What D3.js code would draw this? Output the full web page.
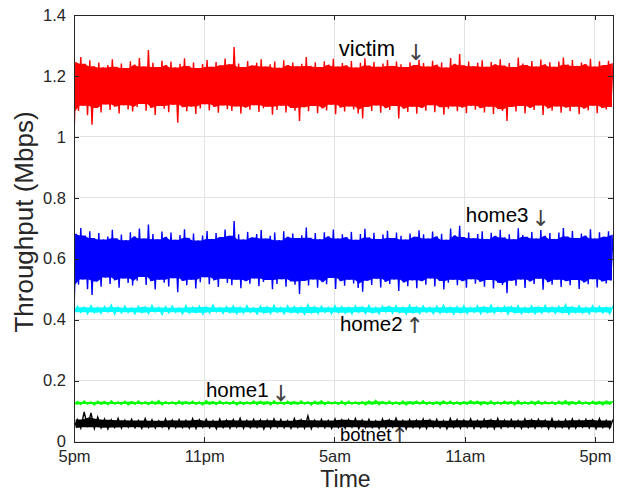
<!DOCTYPE html>
<meta charset="utf-8">
<style>
body { margin: 0; background: #fff; }
svg { font-family: "Liberation Sans", Arial, Helvetica, sans-serif; }
.axis text { font-size: 16.5px; fill: #262626; }
.axis path, .axis line { stroke: #262626; shape-rendering: crispEdges; }
.grid line { stroke: #e3e3e3; shape-rendering: crispEdges; }
.note { font-size: 20.5px; fill: #000; }
.arrow { font-size: 22px; fill: #404040; font-family: "DejaVu Sans", sans-serif; }
</style>
<svg width="621" height="494"></svg>
<script src="https://d3js.org/d3.v7.min.js"></script>
<script>
// time axis, hours after 5pm
var xMax = 24.83;
var xTickHours = [0, 6, 12, 18, 24];
var xTickLabels = ["5pm", "11pm", "5am", "11am", "5pm"];
var yTicks = [0, 0.2, 0.4, 0.6, 0.8, 1, 1.2, 1.4];

// per-bin high / low throughput (Mbps)
var victimHi = [1.245,1.262,1.240,1.251,1.232,1.244,1.228,1.236,1.255,1.230,
  1.241,1.226,1.248,1.237,1.259,1.231,1.285,1.243,1.229,1.250,
  1.236,1.247,1.228,1.240,1.258,1.233,1.244,1.226,1.239,1.252,
  1.230,1.246,1.235,1.257,1.238,1.295,1.241,1.229,1.249,1.234,
  1.243,1.255,1.231,1.238,1.247,1.227,1.251,1.236,1.244,1.232,
  1.240,1.262,1.233,1.245,1.229,1.248,1.237,1.256,1.231,1.242,
  1.235,1.249,1.228,1.243,1.258,1.234,1.246,1.230,1.241,1.252,
  1.233,1.247,1.238,1.229,1.245,1.236,1.253,1.242,1.231,1.250,
  1.237,1.244,1.228,1.259,1.240,1.272,1.235,1.247,1.232,1.243,
  1.251,1.230,1.246,1.238,1.255,1.234,1.242,1.229,1.260,1.241,
  1.236,1.249,1.231,1.254,1.238,1.245,1.230,1.247,1.260,1.237,
  1.252,1.233,1.244,1.239,1.256,1.231,1.248,1.236,1.250,1.242];
var victimLo = [1.000,1.085,1.102,1.071,1.040,1.095,1.080,1.106,1.088,1.099,
  1.077,1.104,1.090,1.083,1.098,1.108,1.086,1.095,1.072,1.101,
  1.092,1.081,1.105,1.046,1.097,1.084,1.100,1.075,1.093,1.107,
  1.087,1.098,1.079,1.103,1.091,1.085,1.100,1.076,1.096,1.089,
  1.104,1.082,1.094,1.099,1.073,1.088,1.102,1.080,1.095,1.086,
  1.052,1.097,1.084,1.101,1.078,1.093,1.087,1.105,1.074,1.096,
  1.083,1.100,1.090,1.077,1.060,1.098,1.085,1.103,1.079,1.094,
  1.088,1.101,1.060,1.092,1.082,1.099,1.076,1.095,1.086,1.104,
  1.081,1.097,1.073,1.092,1.100,1.084,1.096,1.078,1.102,1.089,
  1.094,1.080,1.099,1.075,1.091,1.085,1.052,1.098,1.083,1.101,
  1.077,1.095,1.088,1.103,1.072,1.093,1.086,1.100,1.079,1.096,
  1.084,1.099,1.074,1.092,1.087,1.102,1.078,1.095,1.090,1.098];

var home3Hi = [0.682,0.701,0.676,0.690,0.668,0.684,0.663,0.673,0.695,0.667,
  0.679,0.661,0.687,0.674,0.699,0.666,0.712,0.681,0.664,0.689,
  0.672,0.686,0.662,0.678,0.697,0.669,0.683,0.660,0.676,0.691,
  0.665,0.684,0.671,0.696,0.675,0.724,0.680,0.663,0.688,0.670,
  0.681,0.694,0.666,0.675,0.686,0.661,0.690,0.672,0.683,0.668,
  0.677,0.702,0.669,0.684,0.664,0.687,0.674,0.696,0.666,0.680,
  0.671,0.688,0.662,0.681,0.698,0.670,0.685,0.665,0.679,0.692,
  0.668,0.686,0.675,0.663,0.683,0.672,0.693,0.680,0.666,0.689,
  0.674,0.682,0.662,0.699,0.677,0.708,0.671,0.686,0.667,0.681,
  0.690,0.665,0.685,0.675,0.695,0.670,0.680,0.664,0.700,0.678,
  0.672,0.688,0.666,0.694,0.675,0.684,0.665,0.686,0.701,0.673,
  0.691,0.668,0.683,0.676,0.697,0.666,0.687,0.672,0.690,0.679];
var home3Lo = [0.430,0.515,0.532,0.500,0.481,0.525,0.508,0.538,0.517,0.529,
  0.505,0.535,0.520,0.512,0.528,0.540,0.514,0.526,0.499,0.531,
  0.521,0.509,0.536,0.490,0.527,0.513,0.531,0.502,0.523,0.539,
  0.516,0.529,0.507,0.534,0.520,0.513,0.531,0.503,0.526,0.518,
  0.535,0.510,0.524,0.530,0.500,0.517,0.533,0.508,0.525,0.515,
  0.484,0.527,0.512,0.532,0.505,0.523,0.516,0.537,0.501,0.526,
  0.511,0.531,0.519,0.504,0.492,0.528,0.514,0.534,0.506,0.524,
  0.517,0.532,0.494,0.522,0.510,0.529,0.503,0.526,0.515,0.535,
  0.509,0.527,0.499,0.521,0.531,0.513,0.526,0.505,0.533,0.518,
  0.524,0.508,0.530,0.502,0.520,0.514,0.487,0.528,0.511,0.532,
  0.504,0.525,0.517,0.534,0.498,0.523,0.515,0.531,0.507,0.526,
  0.513,0.530,0.501,0.522,0.516,0.533,0.506,0.525,0.519,0.529];

var home2Hi = [0.444,0.441,0.446,0.440,0.443,0.448,0.441,0.445,0.439,0.444,
  0.442,0.447,0.440,0.443,0.445,0.439,0.446,0.441,0.444,0.442,
  0.448,0.440,0.443,0.445,0.441,0.446,0.439,0.444,0.442,0.447,
  0.440,0.445,0.443,0.441,0.449,0.442,0.444,0.440,0.446,0.443,
  0.441,0.445,0.442,0.447,0.440,0.444,0.443,0.446,0.441,0.448,
  0.442,0.445,0.440,0.444,0.447,0.441,0.443,0.446,0.440,0.445,
  0.442,0.448,0.441,0.444,0.443,0.446,0.440,0.445,0.442,0.447,
  0.441,0.444,0.449,0.442,0.445,0.440,0.446,0.443,0.441,0.445];
var home2Lo = [0.421,0.424,0.419,0.423,0.420,0.425,0.418,0.422,0.424,0.419,
  0.423,0.420,0.425,0.417,0.422,0.424,0.419,0.421,0.423,0.418,
  0.422,0.425,0.420,0.423,0.419,0.421,0.424,0.418,0.422,0.420,
  0.424,0.419,0.423,0.421,0.417,0.422,0.420,0.424,0.419,0.423,
  0.421,0.418,0.424,0.420,0.422,0.419,0.425,0.421,0.423,0.418,
  0.422,0.420,0.424,0.419,0.421,0.423,0.418,0.422,0.420,0.424,
  0.419,0.423,0.421,0.425,0.418,0.422,0.420,0.423,0.419,0.421,
  0.424,0.420,0.422,0.418,0.423,0.421,0.419,0.424,0.422,0.420];

var home1Hi = [0.131,0.133,0.130,0.132,0.131,0.134,0.130,0.132,0.131,0.133,
  0.130,0.132,0.134,0.131,0.130,0.133,0.131,0.132,0.130,0.134,
  0.131,0.133,0.130,0.132,0.131,0.130,0.133,0.132,0.131,0.134,
  0.130,0.132,0.131,0.133,0.130,0.132,0.134,0.131,0.130,0.133,
  0.132,0.130,0.131,0.133,0.135,0.131,0.132,0.130,0.133,0.131,
  0.132,0.134,0.130,0.131,0.133,0.132,0.130,0.131,0.134,0.132,
  0.131,0.133,0.130,0.132,0.131,0.134,0.130,0.132,0.133,0.131,
  0.130,0.132,0.134,0.131,0.133,0.130,0.132,0.131,0.133,0.132];
var home1Lo = [0.122,0.121,0.123,0.120,0.122,0.121,0.123,0.122,0.120,0.122,
  0.123,0.121,0.122,0.120,0.123,0.122,0.121,0.123,0.122,0.120,
  0.122,0.121,0.123,0.122,0.120,0.122,0.123,0.121,0.122,0.120,
  0.123,0.122,0.121,0.122,0.123,0.120,0.122,0.121,0.123,0.122,
  0.121,0.123,0.122,0.120,0.122,0.121,0.123,0.122,0.121,0.120,
  0.122,0.123,0.121,0.122,0.120,0.123,0.122,0.121,0.122,0.123,
  0.120,0.122,0.121,0.123,0.122,0.120,0.122,0.123,0.121,0.122,
  0.123,0.121,0.122,0.120,0.122,0.123,0.121,0.122,0.120,0.122];

var botnetHi = [0.072,0.097,0.094,0.080,0.074,0.071,0.076,0.070,0.073,0.069,
  0.075,0.071,0.068,0.074,0.070,0.072,0.069,0.075,0.071,0.073,
  0.068,0.074,0.070,0.072,0.076,0.069,0.073,0.071,0.070,0.074,
  0.072,0.068,0.075,0.071,0.084,0.070,0.073,0.069,0.074,0.071,
  0.072,0.075,0.070,0.073,0.068,0.074,0.071,0.076,0.069,0.072,
  0.070,0.074,0.071,0.073,0.068,0.075,0.072,0.070,0.074,0.069,
  0.073,0.071,0.076,0.070,0.072,0.069,0.074,0.071,0.073,0.070,
  0.075,0.068,0.072,0.074,0.070,0.073,0.071,0.075,0.069,0.072];
var botnetLo = [0.046,0.044,0.047,0.043,0.045,0.041,0.046,0.044,0.047,0.045,
  0.043,0.046,0.044,0.047,0.042,0.045,0.046,0.044,0.043,0.047,
  0.045,0.042,0.046,0.044,0.047,0.043,0.045,0.046,0.041,0.044,
  0.047,0.045,0.043,0.046,0.044,0.042,0.047,0.045,0.043,0.046,
  0.044,0.047,0.042,0.045,0.046,0.043,0.044,0.047,0.045,0.041,
  0.046,0.044,0.043,0.047,0.045,0.042,0.046,0.044,0.047,0.043,
  0.045,0.046,0.042,0.044,0.047,0.045,0.043,0.046,0.044,0.047,
  0.042,0.045,0.046,0.043,0.044,0.047,0.045,0.042,0.046,0.044];

var seriesNames = ["victim", "home3", "home2", "home1", "botnet"];
var seriesColors = ["#ff0000", "#0000ff", "#00ffff", "#00ff00", "#000000"];
var seriesHi = [victimHi, home3Hi, home2Hi, home1Hi, botnetHi];
var seriesLo = [victimLo, home3Lo, home2Lo, home1Lo, botnetLo];
// label: [hour of text start, Mbps of baseline, hour of arrow, arrow char, font px]
var noteAt = [[12.2, 1.267, 15.75, "\u2193", 22], [18.05, 0.722, 21.5, "\u2193", 20.5],
              [12.25, 0.364, 15.7, "\u2191", 20.5], [6.08, 0.145, 9.53, "\u2193", 20.5],
              [12.25, 0.003, 15.0, "\u2191", 18.5]];

var svg = d3.select("svg"),
    margin = {top: 15, right: 8, bottom: 52.5, left: 74},
    width = +svg.attr("width") - margin.left - margin.right,
    height = +svg.attr("height") - margin.top - margin.bottom,
    g = svg.append("g")
        .attr("transform", "translate(" + margin.left + "," + margin.top + ")");

var x = d3.scaleLinear().domain([0, xMax]).range([0, width]);
var y = d3.scaleLinear().domain([0, 1.4]).range([height, 0]);

g.append("defs").append("clipPath")
    .attr("id", "clip")
  .append("rect")
    .attr("width", width)
    .attr("height", height);

// grid
var grid = g.append("g").attr("class", "grid");
grid.selectAll(".gx").data(xTickHours).enter().append("line")
    .attr("x1", d => x(d)).attr("x2", d => x(d))
    .attr("y1", 0).attr("y2", height);
grid.selectAll(".gy").data(yTicks).enter().append("line")
    .attr("x1", 0).attr("x2", width)
    .attr("y1", d => y(d)).attr("y2", d => y(d));

// annotations (under the data, botnet label gets partly covered)
noteAt.forEach(function(n, i) {
  g.append("text").attr("class", "note")
      .attr("x", x(n[0])).attr("y", y(n[1]))
      .style("font-size", n[4] + "px")
      .text(seriesNames[i]);
  g.append("text").attr("class", "arrow")
      .attr("x", x(n[2])).attr("y", y(n[1]) + (n[3] == "\u2193" ? 4 : 2))
      .attr("text-anchor", "middle")
      .text(n[3]);
});

// data: zigzag through bin lows/highs plus the always-covered core
var data = g.append("g").attr("clip-path", "url(#clip)");
var line = d3.line().x(d => x(d[0])).y(d => y(d[1]));
var area = d3.area().x(d => x(d[0])).y0(d => y(d[1])).y1(d => y(d[2]));

seriesNames.forEach(function(name, s) {
  var hi = seriesHi[s], lo = seriesLo[s], n = hi.length;
  var dt = xMax / (n - 0.5);
  var pts = [];
  for (var i = 0; i < n; i++) {
    pts.push([i * dt, lo[i]]);
    pts.push([(i + 0.5) * dt, hi[i]]);
  }
  var core = [];
  for (var i = 0; i < n; i++) {
    var a = Math.max(0, i - 1), b = Math.min(n - 1, i + 1);
    var l = d3.max(lo.slice(i == 0 ? 1 : a, b + 1));
    var h = d3.min(hi.slice(a, b + 1));
    core.push([(i + 0.25) * dt, l, h]);
  }
  data.append("path")
      .attr("d", area(core))
      .attr("fill", seriesColors[s]);
  data.append("path")
      .attr("d", line(pts))
      .attr("fill", "none")
      .attr("stroke", seriesColors[s])
      .attr("stroke-width", 1.4);
});

// axes, ticks inside on all four sides
g.append("g")
    .attr("class", "axis axis--x")
    .attr("transform", "translate(0," + height + ")")
    .call(d3.axisBottom(x).tickValues(xTickHours)
      .tickFormat((d, i) => xTickLabels[i])
      .tickSizeInner(-5).tickSizeOuter(0).tickPadding(9));

g.append("g")
    .attr("class", "axis axis--x2")
    .call(d3.axisTop(x).tickValues(xTickHours).tickFormat("")
      .tickSizeInner(-5).tickSizeOuter(0));

g.append("g")
    .attr("class", "axis axis--y")
    .call(d3.axisLeft(y).tickValues(yTicks).tickFormat(d => String(d))
      .tickSizeInner(-5).tickSizeOuter(0).tickPadding(8));

g.append("g")
    .attr("class", "axis axis--y2")
    .attr("transform", "translate(" + width + ",0)")
    .call(d3.axisRight(y).tickValues(yTicks).tickFormat("")
      .tickSizeInner(-5).tickSizeOuter(0));

svg.append("text")
    .attr("x", margin.left + width / 2 + 2)
    .attr("y", 487)
    .attr("text-anchor", "middle")
    .style("font-size", "23px")
    .style("fill", "#262626")
    .text("Time");

svg.append("text")
    .attr("transform", "translate(33,222) rotate(-90)")
    .attr("text-anchor", "middle")
    .style("font-size", "26px")
    .style("fill", "#262626")
    .text("Throughput (Mbps)");
</script>
